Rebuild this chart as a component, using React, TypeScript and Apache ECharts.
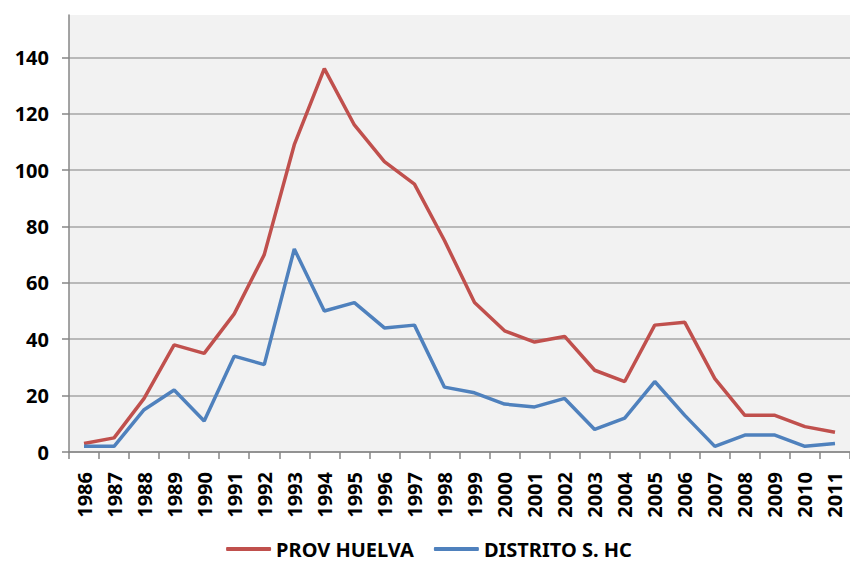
import React, { useEffect, useRef } from "react";
import * as echarts from "echarts";

const years = [
  "1986", "1987", "1988", "1989", "1990", "1991", "1992", "1993", "1994",
  "1995", "1996", "1997", "1998", "1999", "2000", "2001", "2002", "2003",
  "2004", "2005", "2006", "2007", "2008", "2009", "2010", "2011",
];

const provHuelva = [
  3, 5, 19, 38, 35, 49, 70, 109, 136, 116, 103, 95, 75, 53, 43, 39, 41, 29,
  25, 45, 46, 26, 13, 13, 9, 7,
];

const distritoHC = [
  2, 2, 15, 22, 11, 34, 31, 72, 50, 53, 44, 45, 23, 21, 17, 16, 19, 8, 12,
  25, 13, 2, 6, 6, 2, 3,
];

const seriesNames = ["PROV HUELVA", "DISTRITO S. HC"];
const FONT = "Noto Sans";

export default function App() {
  const ref = useRef<HTMLDivElement>(null);
  useEffect(() => {
    if (!ref.current) return;
    const chart = echarts.init(ref.current, undefined, { renderer: "svg" });
    chart.setOption({
      animation: false,
      backgroundColor: "#ffffff",
      grid: {
        left: 69,
        right: 8,
        top: 15,
        bottom: 115,
        show: true,
        backgroundColor: "#F2F2F2",
        borderWidth: 0,
      },
      legend: {
        bottom: 3,
        left: "center",
        icon: "roundRect",
        itemWidth: 45,
        itemHeight: 4,
        itemGap: 20,
        textStyle: { fontFamily: FONT, fontWeight: "bold", fontSize: 20, color: "#000" },
        data: seriesNames,
      },
      xAxis: {
        type: "category",
        data: years,
        boundaryGap: true,
        axisLine: { lineStyle: { color: "#868686", width: 1.5 } },
        axisTick: { show: true, length: 7, alignWithLabel: false, lineStyle: { color: "#868686", width: 1.5 } },
        axisLabel: {
          rotate: 90,
          margin: 20,
          interval: 0,
          fontFamily: FONT,
          fontWeight: "bold",
          fontSize: 20,
          color: "#000",
        },
      },
      yAxis: {
        type: "value",
        min: 0,
        max: 155,
        interval: 20,
        axisLine: { show: true, lineStyle: { color: "#868686", width: 1.5 } },
        axisTick: { show: true, length: 7, lineStyle: { color: "#868686", width: 1.5 } },
        splitLine: { show: true, showMaxLine: false, lineStyle: { color: "#A6A6A6", width: 1.5 } },
        axisLabel: {
          margin: 20,
          showMaxLabel: false,
          fontFamily: FONT,
          fontWeight: "bold",
          fontSize: 20,
          color: "#000",
        },
      },
      series: [
        {
          name: seriesNames[0],
          type: "line",
          data: provHuelva,
          symbol: "none",
          lineStyle: { color: "#C0504D", width: 3.5 },
          itemStyle: { color: "#C0504D" },
        },
        {
          name: seriesNames[1],
          type: "line",
          data: distritoHC,
          symbol: "none",
          lineStyle: { color: "#4F81BD", width: 3.5 },
          itemStyle: { color: "#4F81BD" },
        },
      ],
    });
    return () => chart.dispose();
  }, []);
  return <div ref={ref} style={{ width: 858, height: 567, margin: -8 }} />;
}
